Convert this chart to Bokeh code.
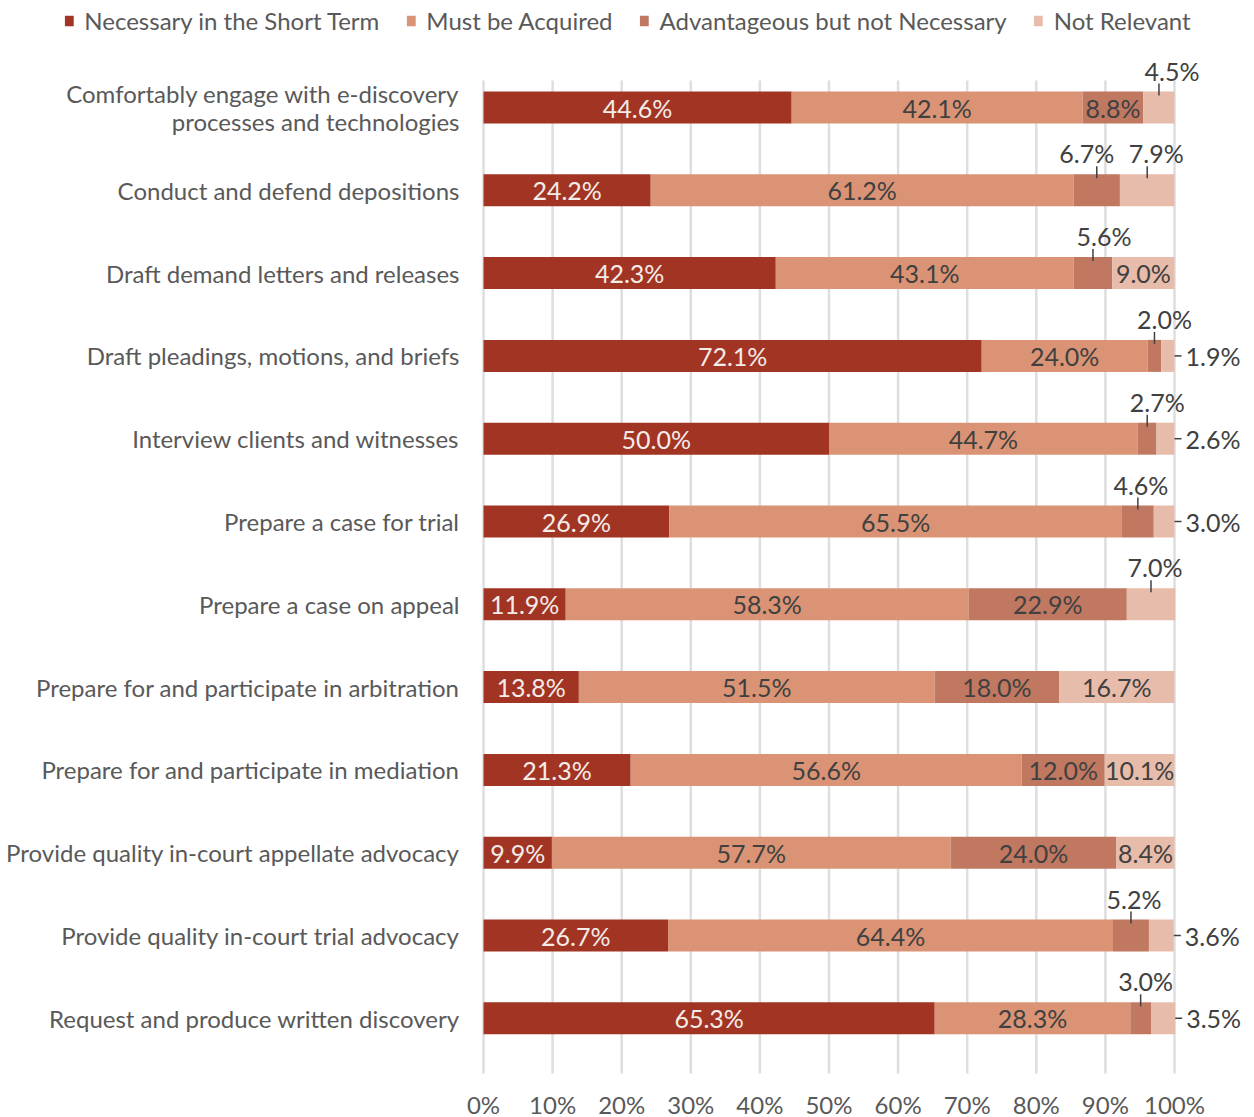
from bokeh.plotting import figure
from bokeh.models import Range1d, FixedTicker, PrintfTickFormatter
from bokeh.core.properties import value
from bokeh.embed import file_html
from bokeh.resources import INLINE

# ---------------- data ----------------
categories = [
    "Comfortably engage with e-discovery\nprocesses and technologies",
    "Conduct and defend depositions",
    "Draft demand letters and releases",
    "Draft pleadings, motions, and briefs",
    "Interview clients and witnesses",
    "Prepare a case for trial",
    "Prepare a case on appeal",
    "Prepare for and participate in arbitration",
    "Prepare for and participate in mediation",
    "Provide quality in-court appellate advocacy",
    "Provide quality in-court trial advocacy",
    "Request and produce written discovery",
]
necessary_short_term = [44.6, 24.2, 42.3, 72.1, 50.0, 26.9, 11.9, 13.8, 21.3, 9.9, 26.7, 65.3]
must_be_acquired = [42.1, 61.2, 43.1, 24.0, 44.7, 65.5, 58.3, 51.5, 56.6, 57.7, 64.4, 28.3]
advantageous = [8.8, 6.7, 5.6, 2.0, 2.7, 4.6, 22.9, 18.0, 12.0, 24.0, 5.2, 3.0]
not_relevant = [4.5, 7.9, 9.0, 1.9, 2.6, 3.0, 7.0, 16.7, 10.1, 8.4, 3.6, 3.5]
series_names = ["Necessary in the Short Term", "Must be Acquired",
                "Advantageous but not Necessary", "Not Relevant"]
x_ticks = [0, 10, 20, 30, 40, 50, 60, 70, 80, 90, 100]

# ---------------- styling / layout ----------------
series_values = [necessary_short_term, must_be_acquired, advantageous, not_relevant]
colors = ["#A23424", "#DA9475", "#C07860", "#E8BCAA"]
inside_text_colors = ["#F3ECE8", "#404040", "#404040", "#404040"]
FONT = value("Lato")
LABEL_SIZE = "25px"
CAT_SIZE = "24px"
TEXT_GRAY = "#595959"
DARK = "#404040"

# label placement overrides: (row, series) -> (mode, x offset px)
placement = {
    (0, 3): ("above", 13),
    (1, 2): ("above", -10), (1, 3): ("above", 9),
    (2, 2): ("above", 11),
    (3, 2): ("above", 10), (3, 3): ("right", 0),
    (4, 2): ("above", 10), (4, 3): ("right", 0),
    (5, 2): ("above", 3), (5, 3): ("right", 0),
    (6, 3): ("above", 4),
    (10, 2): ("above", 3), (10, 3): ("right", 0),
    (11, 2): ("above", 5), (11, 3): ("right", 0),
}

W = 1254
FRAME_H = 1075
X0_PX, X100_PX = 483, 1174
ppu = (X100_PX - X0_PX) / 100.0
x_start = -X0_PX / ppu
x_end = (W - X0_PX) / ppu
ROW0, STEP = 107.0, 82.8
y_top = -ROW0 / STEP
y_bot = (FRAME_H - ROW0) / STEP
GRID_TOP = (80 - ROW0) / STEP
GRID_BOT = (1073 - ROW0) / STEP
BAR_H = 32 / STEP

p = figure(frame_width=W, frame_height=FRAME_H,
           x_range=Range1d(x_start, x_end), y_range=Range1d(y_bot, y_top),
           output_backend="svg", toolbar_location=None, y_axis_location=None,
           min_border=0, min_border_bottom=0)
p.outline_line_color = None
p.xgrid.grid_line_color = None
p.ygrid.grid_line_color = None
p.background_fill_color = "white"

# gridlines
p.segment(x0=x_ticks, x1=x_ticks, y0=[GRID_TOP] * len(x_ticks), y1=[GRID_BOT] * len(x_ticks),
          line_color="#DEDEDE", line_width=2.5)

rows = list(range(len(categories)))
lefts = [0.0] * len(rows)
seg_bounds = []
for s, (vals, col, name) in enumerate(zip(series_values, colors, series_names)):
    rights = [l + v for l, v in zip(lefts, vals)]
    p.hbar(y=rows, left=lefts, right=rights, height=BAR_H, fill_color=col,
           line_color=None, legend_label=name)
    seg_bounds.append((list(lefts), rights))
    lefts = rights

# value labels
in_x, in_y, in_t, in_c = [], [], [], []
ab_x, ab_y, ab_t, ab_off = [], [], [], []
ld_x0, ld_y0, ld_x1, ld_y1 = [], [], [], []
rt_x, rt_y, rt_t = [], [], []
for s, vals in enumerate(series_values):
    ls, rs = seg_bounds[s]
    for r in rows:
        txt = f"{vals[r]:.1f}%"
        mid = (ls[r] + rs[r]) / 2
        mode, off = placement.get((r, s), ("inside", 0))
        if mode == "inside":
            in_x.append(mid); in_y.append(r); in_t.append(txt); in_c.append(inside_text_colors[s])
        elif mode == "above":
            ab_x.append(mid); ab_y.append(r - 37 / STEP); ab_t.append(txt); ab_off.append(off)
            ld_x0.append(mid); ld_x1.append(mid)
            ld_y0.append(r - 24 / STEP); ld_y1.append(r - 12 / STEP)
        else:
            end = rs[r]
            ld_x0.append(end); ld_x1.append(end + 7 / ppu)
            ld_y0.append(r); ld_y1.append(r)
            rt_x.append(end + 11 / ppu); rt_y.append(r); rt_t.append(txt)

p.text(x=in_x, y=in_y, text=in_t, text_color=in_c, text_font=FONT,
       text_font_size=LABEL_SIZE, text_align="center", text_baseline="middle")
p.text(x=ab_x, y=ab_y, text=ab_t, x_offset=ab_off, text_color=DARK, text_font=FONT,
       text_font_size=LABEL_SIZE, text_align="center", text_baseline="middle")
p.text(x=rt_x, y=rt_y, text=rt_t, text_color=DARK, text_font=FONT,
       text_font_size=LABEL_SIZE, text_align="left", text_baseline="middle")
p.segment(x0=ld_x0, y0=ld_y0, x1=ld_x1, y1=ld_y1, line_color=DARK, line_width=1.5)

# category labels
p.text(x=[(459 - X0_PX) / ppu] * len(rows), y=rows, text=categories,
       text_color=TEXT_GRAY, text_font=FONT, text_font_size=CAT_SIZE,
       text_align="right", text_baseline="middle", text_line_height=0.95)

# x axis
p.xaxis.ticker = FixedTicker(ticks=x_ticks)
p.xaxis.formatter = PrintfTickFormatter(format="%d%%")
p.xaxis.axis_line_color = None
p.xaxis.major_tick_line_color = None
p.xaxis.minor_tick_line_color = None
p.xaxis.major_label_standoff = 8
p.xaxis.major_label_text_font = "Lato"
p.xaxis.major_label_text_font_size = "24px"
p.xaxis.major_label_text_color = TEXT_GRAY

# legend
lg = p.legend[0]
lg.location = "top_center"
lg.orientation = "horizontal"
lg.margin = 6
lg.padding = 14
lg.spacing = 26
lg.glyph_width = 11
lg.glyph_height = 13
lg.label_standoff = 10
lg.label_text_font = "Lato"
lg.label_text_font_size = "24px"
lg.label_text_color = TEXT_GRAY
lg.border_line_color = None
lg.background_fill_alpha = 0

open("out.html", "w").write(file_html(p, INLINE))
